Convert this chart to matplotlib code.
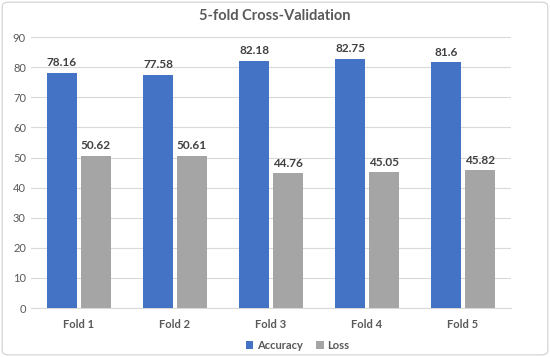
import numpy as np
import matplotlib.pyplot as plt
from matplotlib.patches import FancyBboxPatch

plt.rcParams['font.family'] = ['Lato', 'DejaVu Sans']

folds = ["Fold 1", "Fold 2", "Fold 3", "Fold 4", "Fold 5"]
accuracy = [78.16, 77.58, 82.18, 82.75, 81.6]
loss = [50.62, 50.61, 44.76, 45.05, 45.82]

gris = '#595959'
fig = plt.figure(figsize=(5.5, 3.57), dpi=100)
# borde del grafico
fig.patches.append(FancyBboxPatch((0.004, 0.006), 0.992, 0.988, boxstyle='round,pad=0,rounding_size=0.012',
                                  transform=fig.transFigure, fc='white', ec='#D0D0D0', lw=0.8, zorder=-1))
ax = fig.add_axes([0.056, 0.137, 0.873, 0.759])

x = np.arange(len(folds))
w = 0.31
b1 = ax.bar(x - 0.175, accuracy, w, color='#4472C4', label='Accuracy', zorder=3)
b2 = ax.bar(x + 0.175, loss, w, color='#A5A5A5', label='Loss', zorder=3)

for barras in (b1, b2):
    for r, v in zip(barras, barras.datavalues):
        ax.text(r.get_x() + r.get_width() / 2, v + 1.5, f"{v:g}", ha='center', va='bottom',
                fontsize=8.5, fontweight='bold', color='#404040')

ax.set_xlim(-0.5, 4.5)
ax.set_ylim(0, 90)
ax.set_yticks(range(0, 91, 10))
ax.set_xticks(x)
ax.set_xticklabels(folds, fontweight='bold')
ax.set_facecolor('none')
ax.grid(axis='y', color='#D9D9D9', linewidth=0.8, zorder=0)
for s in ['top', 'right', 'left']:
    ax.spines[s].set_visible(False)
ax.spines['bottom'].set_color('#D9D9D9')
ax.tick_params(length=0, colors=gris, labelsize=8)
ax.tick_params(axis='x', pad=8)

fig.suptitle("5-fold Cross-Validation", y=0.975, fontsize=10.5, fontweight='bold', color=gris)
ax.legend(loc='upper center', bbox_to_anchor=(0.555, -0.08), ncol=2, frameon=False,
          handlelength=0.7, handleheight=0.7, columnspacing=1.2, handletextpad=0.3,
          labelcolor=gris, prop={'weight': 'bold', 'size': 8})

plt.savefig("out.png", dpi=100)
